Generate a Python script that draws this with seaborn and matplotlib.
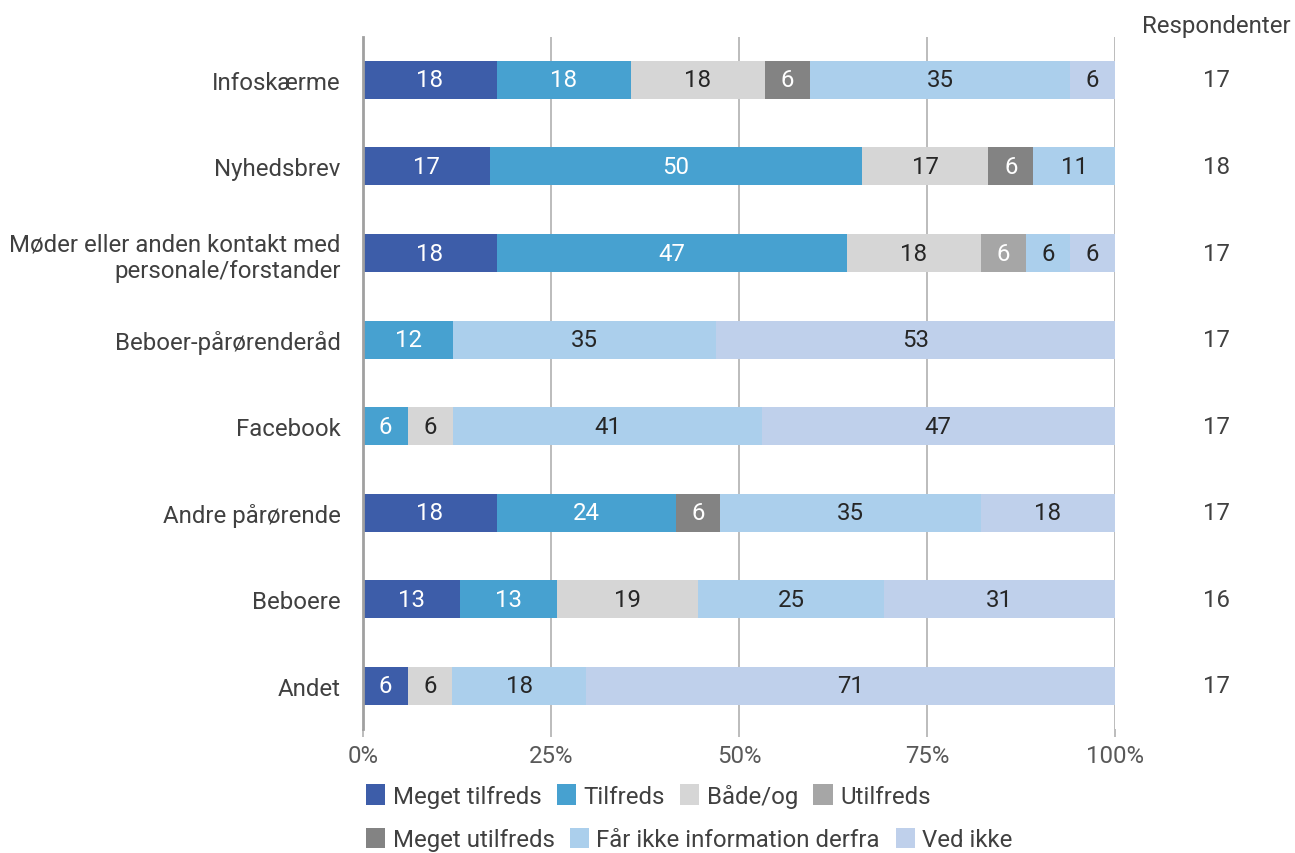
import numpy as np
import pandas as pd
import matplotlib
matplotlib.use('Agg')
import matplotlib.pyplot as plt
from matplotlib.patches import Patch
import seaborn as sns

sns.set_theme(style='white')
plt.rcParams['font.family'] = ['Roboto', 'DejaVu Sans']

# kategorier og svar i procent (som aflæst på figuren)
kategorier = ['Infoskærme', 'Nyhedsbrev', 'Møder eller anden kontakt med\npersonale/forstander',
              'Beboer-pårørenderåd', 'Facebook', 'Andre pårørende', 'Beboere', 'Andet']
serier = ['Meget tilfreds', 'Tilfreds', 'Både/og', 'Utilfreds', 'Meget utilfreds',
          'Får ikke information derfra', 'Ved ikke']
meget_tilfreds = [18, 17, 18, 0, 0, 18, 13, 6]
tilfreds = [18, 50, 47, 12, 6, 24, 13, 0]
baade_og = [18, 17, 18, 0, 6, 0, 19, 6]
utilfreds = [0, 0, 6, 0, 0, 0, 0, 0]
meget_utilfreds = [6, 6, 0, 0, 0, 6, 0, 0]
faar_ikke = [35, 11, 6, 35, 41, 35, 25, 18]
ved_ikke = [6, 0, 6, 53, 47, 18, 31, 71]
respondenter = [17, 18, 17, 17, 17, 17, 16, 17]

farver = ['#3d5da9', '#47a1d0', '#d6d6d6', '#a6a6a6', '#838383', '#abcfec', '#bfd0eb']
hvid_tekst = [True, True, False, True, True, False, False]
fs = 17.3

df = pd.DataFrame({'Meget tilfreds': meget_tilfreds, 'Tilfreds': tilfreds, 'Både/og': baade_og,
                   'Utilfreds': utilfreds, 'Meget utilfreds': meget_utilfreds,
                   'Får ikke information derfra': faar_ikke, 'Ved ikke': ved_ikke},
                  index=kategorier)
andel = df.div(df.sum(axis=1), axis=0) * 100  # 100% stablet
kum = andel.cumsum(axis=1)

fig = plt.figure(figsize=(12.95, 8.54), dpi=100)
ax = fig.add_axes([0.2803, 0.145, 0.5807, 0.811])

# tegn kumulerede søjler bagfra, så de stables
for i in range(len(serier) - 1, -1, -1):
    s = serier[i]
    sns.barplot(x=kum[s].values, y=kategorier, color=farver[i], orient='h',
                width=0.44, ax=ax, saturation=1, linewidth=0, zorder=3)

for r, k in enumerate(kategorier):
    for i, s in enumerate(serier):
        v = df.loc[k, s]
        if v == 0:
            continue
        midt = kum.loc[k, s] - andel.loc[k, s] / 2
        ax.text(midt, r, str(v), ha='center', va='center', fontsize=fs,
                color='white' if hvid_tekst[i] else '#262626', zorder=5)
    ax.text(1.135, r, str(respondenter[r]), transform=ax.get_yaxis_transform(),
            ha='center', va='center', fontsize=fs, color='#404040')

ax.text(1.135, 1.0, 'Respondenter', transform=ax.transAxes, ha='center', va='bottom',
        fontsize=fs, color='#404040')

ax.set_xlim(0, 100)
ax.set_ylim(7.5, -0.5)
ax.set_xticks([0, 25, 50, 75, 100])
ax.set_xticklabels(['0%', '25%', '50%', '75%', '100%'])
ax.grid(axis='x', color='#b0b0b0', linewidth=1.2, zorder=0)
ax.set_xlabel('')
ax.set_ylabel('')
for sp in ['top', 'right', 'bottom']:
    ax.spines[sp].set_visible(False)
ax.spines['left'].set_color('#a0a0a0')
ax.spines['left'].set_linewidth(2)
ax.spines['left'].set_zorder(6)
ax.tick_params(axis='x', length=6, width=1.2, color='#b0b0b0', labelsize=fs,
               labelcolor='#595959', pad=5, bottom=True)
ax.tick_params(axis='y', length=0, labelsize=fs, labelcolor='#404040', pad=16)
for lab in ax.get_yticklabels():
    lab.set_horizontalalignment('right')
    lab.set_multialignment('right')

haandtag = [Patch(facecolor=farver[i], edgecolor='none', label=serier[i]) for i in range(len(serier))]
leg1 = fig.legend(handles=haandtag[:4], loc='center left', bbox_to_anchor=(0.266, 0.067),
                  ncol=4, frameon=False, fontsize=fs, labelcolor='#404040',
                  handlelength=0.8, handleheight=0.95, handletextpad=0.3, columnspacing=0.65)
leg2 = fig.legend(handles=haandtag[4:], loc='center left', bbox_to_anchor=(0.266, 0.016),
                  ncol=3, frameon=False, fontsize=fs, labelcolor='#404040',
                  handlelength=0.8, handleheight=0.95, handletextpad=0.3, columnspacing=0.65)

fig.savefig('out.png', dpi=100)
